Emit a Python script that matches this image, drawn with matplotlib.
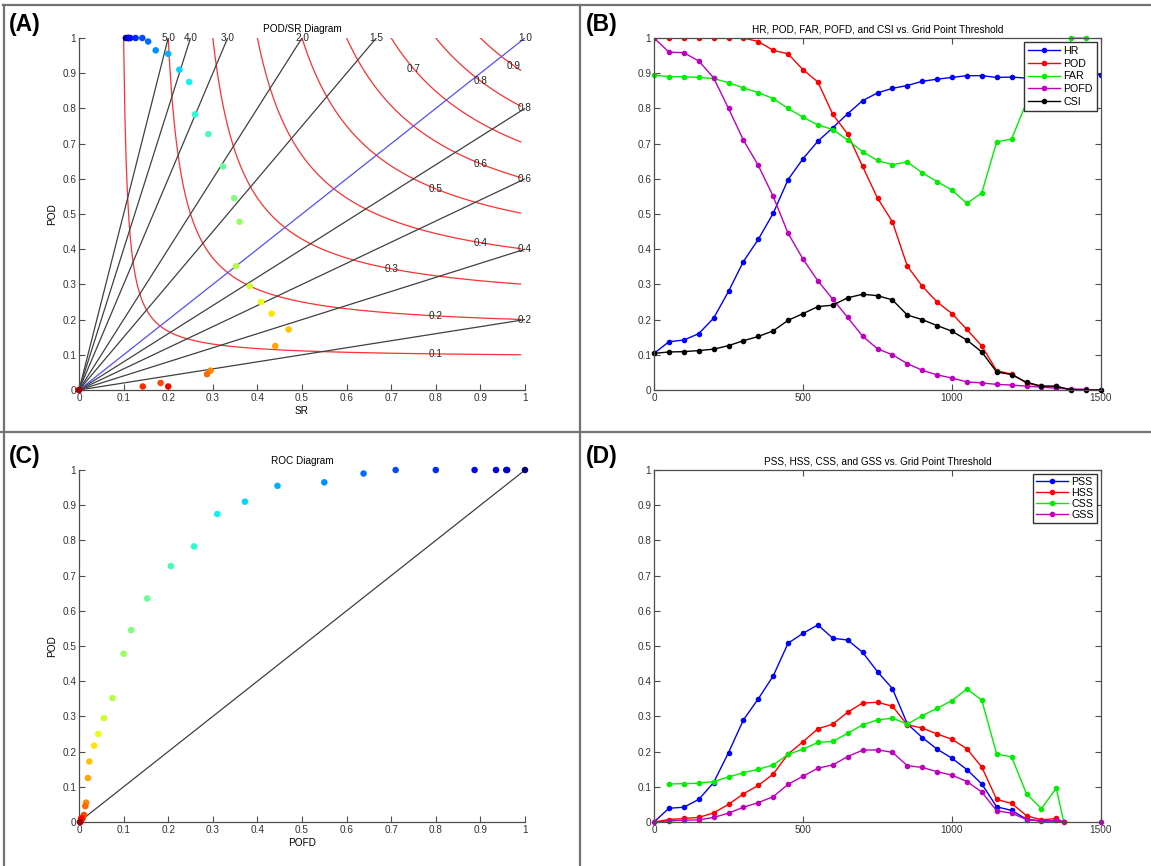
import numpy as np
import matplotlib
matplotlib.use('Agg')
import matplotlib.pyplot as plt
from matplotlib import cm
from matplotlib.lines import Line2D
from matplotlib.ticker import FormatStrFormatter

plt.rcParams['font.family'] = ['Liberation Sans', 'DejaVu Sans']

# grid point thresholds
thr = [0, 50, 100, 150, 200, 250, 300, 350, 400, 450, 500, 550, 600, 650, 700,
       750, 800, 850, 900, 950, 1000, 1050, 1100, 1150, 1200, 1250, 1300, 1350,
       1400, 1450, 1500]
nan = np.nan

hr = [0.104, 0.137, 0.142, 0.160, 0.204, 0.280, 0.365, 0.428, 0.502, 0.598, 0.657,
      0.707, 0.745, 0.785, 0.822, 0.844, 0.857, 0.865, 0.877, 0.883, 0.888, 0.893,
      0.893, 0.888, 0.889, 0.886, 0.888, 0.890, 0.892, 0.894, 0.896]
pod = [1.0, 1.0, 1.0, 1.0, 1.0, 1.0, 1.0, 0.99, 0.965, 0.955, 0.91, 0.875, 0.783,
       0.727, 0.635, 0.545, 0.478, 0.352, 0.295, 0.25, 0.217, 0.172, 0.125, 0.055,
       0.045, 0.02, 0.01, 0.01, 0.0, 0.0, 0.0]
far = [0.895, 0.89, 0.89, 0.888, 0.885, 0.873, 0.858, 0.845, 0.828, 0.8, 0.775,
       0.753, 0.74, 0.71, 0.677, 0.652, 0.64, 0.648, 0.617, 0.592, 0.568, 0.53,
       0.56, 0.705, 0.713, 0.817, 0.857, 0.8, 1.0, 1.0, nan]
pofd = [1.0, 0.96, 0.958, 0.935, 0.887, 0.8, 0.71, 0.638, 0.55, 0.445, 0.372, 0.31,
        0.258, 0.206, 0.153, 0.117, 0.1, 0.075, 0.056, 0.043, 0.034, 0.023, 0.02,
        0.016, 0.014, 0.011, 0.008, 0.005, 0.003, 0.002, nan]
csi = [0.104, 0.108, 0.109, 0.112, 0.116, 0.126, 0.14, 0.152, 0.168, 0.198, 0.217,
       0.237, 0.241, 0.262, 0.272, 0.268, 0.256, 0.213, 0.2, 0.183, 0.167, 0.142,
       0.108, 0.051, 0.044, 0.022, 0.011, 0.011, 0.0, 0.0, 0.0]

# skill scores (panel D)
thr_d = [0, 50, 100, 150, 200, 250, 300, 350, 400, 450, 500, 550, 600, 650, 700,
         750, 800, 850, 900, 950, 1000, 1050, 1100, 1150, 1200, 1250, 1300, 1350,
         1375, 1450, 1500]
pss = [0.0, 0.039, 0.042, 0.064, 0.112, 0.197, 0.29, 0.35, 0.415, 0.508, 0.536,
       0.56, 0.522, 0.517, 0.482, 0.427, 0.379, 0.279, 0.24, 0.207, 0.181, 0.149,
       0.108, 0.043, 0.033, 0.008, 0.003, 0.003, 0.0, nan, nan]
hss = [0.0, 0.007, 0.01, 0.013, 0.026, 0.05, 0.08, 0.104, 0.136, 0.193, 0.228,
       0.265, 0.278, 0.312, 0.338, 0.34, 0.329, 0.276, 0.267, 0.25, 0.235, 0.208,
       0.156, 0.064, 0.053, 0.018, 0.006, 0.01, 0.0, nan, nan]
css = [nan, 0.108, 0.109, 0.11, 0.115, 0.128, 0.14, 0.15, 0.162, 0.192, 0.207,
       0.226, 0.229, 0.252, 0.276, 0.29, 0.295, 0.278, 0.302, 0.323, 0.345, 0.378,
       0.346, 0.193, 0.185, 0.08, 0.038, 0.096, 0.0, nan, nan]
gss = [0.0, 0.003, 0.005, 0.006, 0.013, 0.025, 0.042, 0.055, 0.072, 0.107, 0.13,
       0.153, 0.162, 0.186, 0.204, 0.205, 0.198, 0.16, 0.155, 0.143, 0.133, 0.115,
       0.085, 0.032, 0.025, 0.007, 0.002, 0.005, 0.0, nan, 0.0]

# performance diagram background
csi_levels = [0.1, 0.2, 0.3, 0.4, 0.5, 0.6, 0.7, 0.8, 0.9]
csi_label_sr = [0.8, 0.8, 0.7, 0.9, 0.8, 0.9, 0.75, 0.9, 0.975]
bias_levels = [0.2, 0.4, 0.6, 0.8, 1.0, 1.5, 2.0, 3.0, 4.0, 5.0]

FS = 7.2
AXC = '0.3'


def style_axes(ax, box):
    for s in ['left', 'bottom', 'top', 'right']:
        ax.spines[s].set_color(AXC)
        ax.spines[s].set_linewidth(0.9)
    if not box:
        ax.spines['top'].set_visible(False)
        ax.spines['right'].set_visible(False)
    ax.tick_params(direction='in', length=4, width=0.8, color=AXC,
                   labelsize=FS, labelcolor='0.2', pad=2,
                   top=box, right=box)


def unit_ticks(ax):
    ticks = np.linspace(0, 1, 11)
    ax.set_xticks(ticks)
    ax.set_yticks(ticks)
    ax.xaxis.set_major_formatter(FormatStrFormatter('%g'))
    ax.yaxis.set_major_formatter(FormatStrFormatter('%g'))
    ax.set_xlim(0, 1)
    ax.set_ylim(0, 1)


fig = plt.figure(figsize=(11.51, 8.66), dpi=100)
W, H = 1151.0, 866.0


def box(x0, x1, ytop, ybot):
    return [x0 / W, 1 - ybot / H, (x1 - x0) / W, (ybot - ytop) / H]


axA = fig.add_axes(box(79, 525, 38, 390))
axB = fig.add_axes(box(654, 1101, 38, 390))
axC = fig.add_axes(box(79, 525, 470, 822))
axD = fig.add_axes(box(654, 1101, 470, 822))

colors = [cm.jet(i / (len(thr) - 1)) for i in range(len(thr))]

# ---- (A) performance diagram
for c, lx in zip(csi_levels, csi_label_sr):
    s = np.linspace(c, 0.99, 300)
    p = 1.0 / (1.0 / c - 1.0 / s + 1.0)
    axA.plot(s, p, color='#ff3030', lw=0.9)
    ly = 1.0 / (1.0 / c - 1.0 / lx + 1.0)
    axA.text(lx, ly, '%.1f' % c, fontsize=FS, ha='center', va='center', color='0.15')
for b in bias_levels:
    if b <= 1:
        ex, ey = 1.0, b
    else:
        ex, ey = 1.0 / b, 1.0
    axA.plot([0, ex], [0, ey], color='#5050ff' if b == 1.0 else '0.25', lw=0.9)
    axA.text(ex, ey, '%.1f' % b, fontsize=FS, ha='center', va='center', color='0.15')

sr = 1 - np.array(far)
axA.scatter(sr, pod, c=colors, s=22, zorder=5, clip_on=False, edgecolors='none')
unit_ticks(axA)
style_axes(axA, False)
axA.set_xlabel('SR', fontsize=FS, labelpad=2)
axA.set_ylabel('POD', fontsize=FS, labelpad=4)
axA.set_title('POD/SR Diagram', fontsize=FS, pad=4)

# ---- (B) HR, POD, FAR, POFD, CSI
mk = dict(marker='o', markersize=3.0, lw=1.0)
axB.plot(thr, hr, color='b', label='HR', **mk)
axB.plot(thr, pod, color='r', label='POD', **mk)
axB.plot(thr, far, color='#00ee00', label='FAR', clip_on=False, **mk)
axB.plot(thr, pofd, color='m', label='POFD', **mk)
axB.plot(thr, csi, color='k', label='CSI', clip_on=False, **mk)
axB.set_xlim(0, 1500)
axB.set_ylim(0, 1)
axB.set_xticks([0, 500, 1000, 1500])
axB.set_yticks(np.linspace(0, 1, 11))
axB.yaxis.set_major_formatter(FormatStrFormatter('%g'))
style_axes(axB, True)
axB.set_title('HR, POD, FAR, POFD, and CSI vs. Grid Point Threshold', fontsize=FS, pad=4)
legB = axB.legend(loc='upper right', fontsize=FS + 0.5, fancybox=False, framealpha=1,
                  edgecolor='0.2', handlelength=3.0, labelspacing=0.25,
                  borderaxespad=0.35, borderpad=0.4, handletextpad=0.3)
legB.get_frame().set_linewidth(1.0)

# ---- (C) ROC diagram
axC.plot([0, 1], [0, 1], color='0.25', lw=0.9)
axC.scatter(pofd, pod, c=colors, s=22, zorder=5, clip_on=False, edgecolors='none')
unit_ticks(axC)
style_axes(axC, False)
axC.set_xlabel('POFD', fontsize=FS, labelpad=2)
axC.set_ylabel('POD', fontsize=FS, labelpad=4)
axC.set_title('ROC Diagram', fontsize=FS, pad=4)

# ---- (D) skill scores
axD.plot(thr_d, pss, color='b', label='PSS', **mk)
axD.plot(thr_d, hss, color='r', label='HSS', **mk)
axD.plot(thr_d, css, color='#00ee00', label='CSS', **mk)
axD.plot(thr_d, gss, color='m', label='GSS', clip_on=False, **mk)
axD.set_xlim(0, 1500)
axD.set_ylim(0, 1)
axD.set_xticks([0, 500, 1000, 1500])
axD.set_yticks(np.linspace(0, 1, 11))
axD.yaxis.set_major_formatter(FormatStrFormatter('%g'))
style_axes(axD, True)
axD.set_title('PSS, HSS, CSS, and GSS vs. Grid Point Threshold', fontsize=FS, pad=4)
legD = axD.legend(loc='upper right', fontsize=FS + 0.5, fancybox=False, framealpha=1,
                  edgecolor='0.2', handlelength=3.0, labelspacing=0.1,
                  borderaxespad=0.35, borderpad=0.3, handletextpad=0.3)
legD.get_frame().set_linewidth(1.0)

# panel letters
for lab, x, y in [('(A)', 9, 24), ('(B)', 586, 24), ('(C)', 9, 456), ('(D)', 586, 456)]:
    fig.text(x / W, 1 - y / H, lab, fontsize=16.5, fontweight='bold', ha='left', va='center')

# panel separators
sep = dict(transform=fig.transFigure, color='0.45', lw=1.6)
fig.add_artist(Line2D([0.003, 1], [1 - 5 / H, 1 - 5 / H], **sep))
fig.add_artist(Line2D([4 / W, 4 / W], [0, 1 - 5 / H], **sep))
fig.add_artist(Line2D([580 / W, 580 / W], [0, 1 - 5 / H], **sep))
fig.add_artist(Line2D([0, 1], [1 - 432 / H, 1 - 432 / H], **sep))

fig.savefig('out.png', dpi=100)
